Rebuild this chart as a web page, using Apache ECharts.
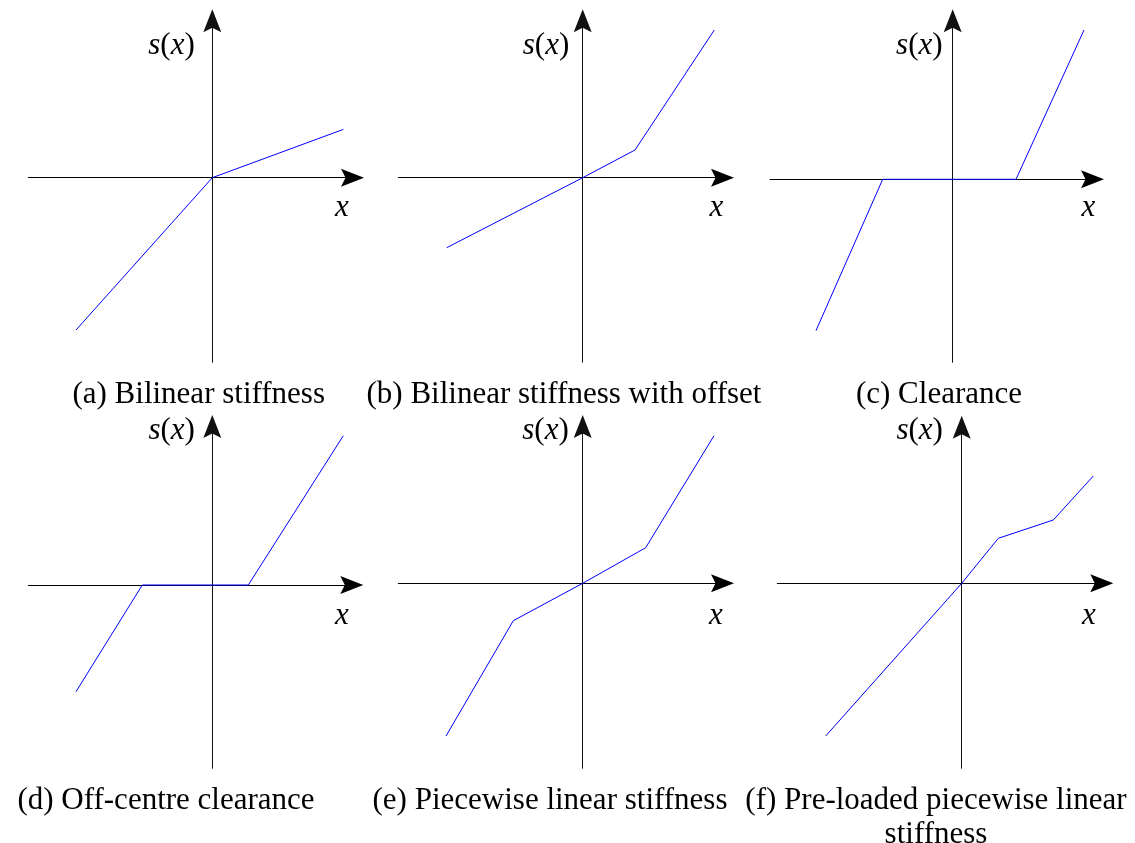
<!DOCTYPE html>
<html>
<head>
<meta charset="utf-8">
<script src="https://cdn.jsdelivr.net/npm/echarts@6/dist/echarts.min.js"></script>
<style>
  html, body { margin: 0; padding: 0; background: #fff; }
  #chart { width: 1135px; height: 843px; }
</style>
</head>
<body>
<div id="chart"></div>
<script>
// ---- data (units: relative to the origin of each panel, y up) ----
const captions = [
  '(a) Bilinear stiffness',
  '(b) Bilinear stiffness with offset',
  '(c) Clearance',
  '(d) Off-centre clearance',
  '(e) Piecewise linear stiffness',
  '(f) Pre-loaded piecewise linear\nstiffness'
];
const aX = [-13.63, 0, 13.10];
const aY = [-15.23, 0, 4.83];
const bX = [-13.60, 0, 5.23, 13.16];
const bY = [-7.00, 0, 2.77, 14.77];
const cX = [-13.67, -7.00, 6.33, 13.13];
const cY = [-15.13, 0, 0, 14.93];
const dX = [-13.63, -7.00, 3.60, 13.10];
const dY = [-10.67, 0, 0, 14.93];
const eX = [-13.67, -6.94, 0, 6.30, 13.13];
const eY = [-15.27, -3.74, 0, 3.56, 14.76];
const fX = [-13.60, 0, 3.66, 9.16, 13.16];
const fY = [-15.27, 0, 4.50, 6.33, 10.73];
const yName = 's(x)';
const xName = 'x';

const seriesXs = [aX, bX, cX, dX, eX, fX];
const seriesYs = [aY, bY, cY, dY, eY, fY];

// ---- layout (pixels) ----
const S = 10; // px per data unit
const panels = [
  { ox: 212.3, oy: 177.7, left: 28.3,  right: 352.5,  top: 20.8,  bottom: 362.3 },
  { ox: 582.7, oy: 177.7, left: 398.3, right: 722.5,  top: 20.8,  bottom: 362.3 },
  { ox: 952.7, oy: 179.3, left: 770.0, right: 1092.5, top: 20.8,  bottom: 362.3 },
  { ox: 212.3, oy: 585.0, left: 28.3,  right: 351.8,  top: 426.5, bottom: 768.3 },
  { ox: 582.7, oy: 583.3, left: 398.3, right: 722.5,  top: 426.5, bottom: 768.3 },
  { ox: 961.7, oy: 583.3, left: 777.3, right: 1101.8, top: 427.2, bottom: 768.3 }
];
const LH = 34; // caption line height
const captionPos = [
  [198.7, 394.5], [564, 394.5], [939, 394.5],
  [166, 800.5], [550, 800.5], [936, 800.5]
];
const yNamePos = [
  [171.5, 45.5], [546, 45.5], [919.3, 45.5],
  [171.7, 430.5], [545.5, 430.5], [919.7, 430.5]
];
const xNamePos = [
  [342, 208], [716.3, 208], [1088.3, 208],
  [342, 616], [715.8, 616], [1089, 616]
];

const FONT = '"Liberation Serif", "Times New Roman", serif';
const arrow = 'path://M9,0 L18,23 L9,18.5 L0,23 Z';

const grid = [], xAxis = [], yAxis = [], series = [], graphic = [];
panels.forEach((p, i) => {
  grid.push({ left: p.left, top: p.top, width: p.right - p.left, height: p.bottom - p.top, containLabel: false });
  const axisLine = {
    show: true, onZero: true,
    symbol: ['none', arrow], symbolSize: [18, 23],
    lineStyle: { color: '#000', width: 1 }
  };
  xAxis.push({
    type: 'value', gridIndex: i,
    min: (p.left - p.ox) / S, max: (p.right - p.ox) / S,
    axisLine: axisLine, axisTick: { show: false }, axisLabel: { show: false }, splitLine: { show: false }
  });
  yAxis.push({
    type: 'value', gridIndex: i,
    min: -(p.bottom - p.oy) / S, max: (p.oy - p.top) / S,
    axisLine: { show: true, onZero: true, symbol: ['none', arrow], symbolSize: [18, 23],
      lineStyle: { color: '#111', width: 1 } },
    axisTick: { show: false }, axisLabel: { show: false }, splitLine: { show: false }
  });
  const xs = seriesXs[i], ys = seriesYs[i];
  series.push({
    type: 'line', xAxisIndex: i, yAxisIndex: i,
    data: xs.map((x, k) => [x, ys[k]]),
    showSymbol: false, symbol: 'none', silent: true, animation: false, clip: false,
    lineStyle: { color: '#0000ff', width: 1 }, z: 5
  });
  // caption (each line placed separately; first line centred at captionPos)
  captions[i].split('\n').forEach((line, li) => {
    graphic.push({
      type: 'text', x: captionPos[i][0], y: captionPos[i][1] + li * LH,
      style: { text: line, font: '31px ' + FONT, fill: '#000', align: 'center', verticalAlign: 'middle' }
    });
  });
  // axis names
  graphic.push({
    type: 'text', x: yNamePos[i][0], y: yNamePos[i][1],
    style: {
      text: '{i|' + yName[0] + '}{n|' + yName[1] + '}{i|' + yName[2] + '}{n|' + yName[3] + '}',
      fill: '#000', align: 'center', verticalAlign: 'middle',
      rich: {
        i: { fontFamily: FONT, fontSize: 31, fontStyle: 'italic', fill: '#000' },
        n: { fontFamily: FONT, fontSize: 31, fill: '#000' }
      }
    }
  });
  graphic.push({
    type: 'text', x: xNamePos[i][0], y: xNamePos[i][1],
    style: { text: xName, font: 'italic 31px ' + FONT, fill: '#000', align: 'center', verticalAlign: 'middle' }
  });
});

const chart = echarts.init(document.getElementById('chart'), null, { renderer: 'canvas' });
chart.setOption({
  backgroundColor: '#fff',
  animation: false,
  grid, xAxis, yAxis, series, graphic
});
</script>
</body>
</html>
